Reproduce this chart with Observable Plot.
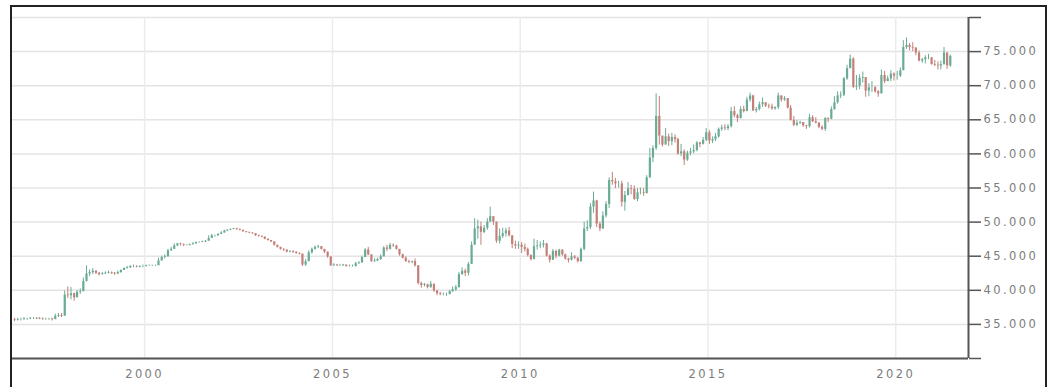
<!DOCTYPE html>
<html><head><meta charset="utf-8">
<script src="https://cdn.jsdelivr.net/npm/d3@7"></script>
<script src="https://cdn.jsdelivr.net/npm/@observablehq/plot@0.6"></script>
<style>
html,body{margin:0;padding:0;background:#fff;}
#wrap{position:relative;width:1052px;height:387px;overflow:hidden;}
#frame{position:absolute;left:10px;top:5px;width:1037px;height:420px;border:2px solid #222;border-bottom:none;box-sizing:border-box;pointer-events:none;}
#chart svg{display:block;}
#chart text{letter-spacing:2.4px;}
g[aria-label="y-axis tick label"], g[aria-label="x-axis tick label"]{fill:#7c7c7c;}
g[aria-label="y-axis tick"]{stroke:#555;stroke-width:1.5px;}
</style></head><body>
<div id="wrap"><div id="chart"></div><div id="frame"></div></div>
<script>
// Monthly USD/INR candles, July 1996 .. June 2021
const firstMonth = "1996-07";
const firstOpen = 35.7;
const closes = [
35.6,35.7,35.7,35.8,35.8,35.9,
35.9,35.8,35.9,35.8,35.8,35.8,35.7,36.2,36.3,36.2,39.3,39.2,
39.5,38.9,39.7,39.8,41.3,42.4,42.6,42.8,42.5,42.3,42.4,42.5,
42.6,42.5,42.4,42.6,42.9,43.2,43.3,43.5,43.5,43.4,43.5,43.5,
43.6,43.6,43.6,43.6,44.3,44.8,44.9,45.8,46.0,46.5,46.8,46.7,
46.6,46.6,46.7,46.8,47.0,47.0,47.1,47.2,47.6,48.0,48.0,48.2,
48.4,48.7,48.8,48.9,49.0,48.9,48.8,48.6,48.5,48.4,48.3,48.0,
47.9,47.8,47.5,47.3,47.1,46.6,46.3,46.0,45.9,45.6,45.7,45.6,
45.4,45.3,43.7,44.2,45.5,46.0,46.3,46.4,46.0,45.6,44.9,43.6,
43.7,43.6,43.6,43.7,43.5,43.5,43.5,43.9,44.0,44.8,45.9,45.2,
44.2,44.3,44.5,44.9,46.2,46.0,46.6,46.5,46.0,45.2,44.7,44.2,
44.1,44.2,43.6,41.0,40.7,40.8,40.4,40.9,39.9,39.5,39.4,39.4,
39.4,39.8,40.1,40.4,42.3,42.8,42.5,43.8,46.6,49.0,49.3,48.5,
49.1,50.0,50.8,50.0,47.2,47.9,48.3,48.7,48.0,46.7,46.5,46.6,
46.3,46.0,45.1,44.5,46.4,46.5,46.6,46.8,45.0,44.4,45.7,45.0,
45.9,45.2,44.6,44.4,44.9,44.7,44.2,46.0,49.0,49.2,52.2,53.1,
49.7,49.0,50.9,52.6,56.1,55.9,55.6,55.6,52.9,53.9,54.9,54.8,
53.3,54.3,54.3,54.2,56.5,59.4,60.8,65.5,62.6,61.3,62.5,61.8,
62.4,62.1,60.0,60.3,59.1,60.1,60.3,60.5,61.6,61.4,62.0,63.1,
61.9,62.1,62.5,63.6,63.8,63.7,64.0,66.2,65.6,65.2,66.5,66.2,
67.9,68.5,66.3,66.5,67.2,67.5,67.0,66.9,66.6,66.8,68.5,67.9,
68.1,66.7,64.9,64.2,64.5,64.6,64.1,64.0,65.3,64.7,64.5,63.9,
63.6,65.2,65.1,66.5,67.5,68.5,68.6,71.0,72.5,73.9,69.8,69.9,
71.1,71.2,69.2,69.7,69.7,69.1,68.8,71.5,70.6,71.0,71.7,71.4,
71.4,72.2,75.6,75.9,75.6,75.5,74.8,73.6,73.8,74.1,74.1,73.1,
73.0,72.9,73.1,74.8,72.9,74.3
];
const highs = [
35.9,35.9,35.9,36.0,35.9,36.0,
36.0,36.0,36.0,35.9,35.9,35.9,35.9,36.5,36.6,36.6,39.9,40.5,
40.4,39.6,40.0,40.2,41.8,43.6,43.0,43.2,42.9,42.6,42.6,42.7,
42.8,42.7,42.6,42.8,43.0,43.3,43.5,43.6,43.7,43.6,43.6,43.7,
43.7,43.7,43.7,43.7,44.7,45.0,45.2,46.0,46.3,46.8,46.9,46.9,
46.8,46.7,46.8,47.0,47.1,47.1,47.2,47.3,48.0,48.2,48.1,48.3,
48.6,48.8,48.9,49.0,49.1,49.1,49.0,48.8,48.6,48.5,48.4,48.3,
48.1,48.0,47.8,47.5,47.3,47.1,46.6,46.3,46.1,45.9,45.8,45.8,
45.6,45.5,45.3,44.5,45.8,46.2,46.5,46.6,46.4,46.0,45.6,44.9,
43.9,43.8,43.8,43.8,43.7,43.7,43.7,44.1,44.2,45.0,46.1,46.3,
45.2,44.6,44.7,45.2,46.4,46.6,46.9,46.8,46.6,46.0,45.3,44.9,
44.4,44.3,44.6,43.6,41.2,41.0,40.9,41.3,40.9,40.0,39.7,39.6,
39.6,40.0,40.5,40.7,42.6,43.3,43.1,44.1,47.1,50.5,50.3,50.0,
49.5,50.5,52.2,50.7,49.9,49.0,49.1,49.1,49.2,47.9,47.2,47.1,
47.0,46.8,46.2,45.2,47.5,47.3,47.1,47.3,46.9,45.2,46.0,45.9,
46.0,45.9,45.3,44.7,45.5,45.1,44.8,46.2,50.0,50.2,52.7,54.4,
53.2,50.0,51.5,53.0,56.5,57.3,56.4,56.0,56.0,54.5,55.8,55.4,
55.3,54.9,55.0,54.9,56.8,60.8,61.2,68.8,68.4,62.5,63.7,62.9,
63.0,62.8,62.3,61.4,60.6,60.4,60.8,61.3,61.8,61.7,62.4,63.7,
63.4,62.5,63.0,63.8,64.2,64.3,64.3,66.8,66.9,65.8,66.9,67.0,
68.3,68.9,68.6,66.8,67.6,68.2,67.5,67.3,67.3,66.9,68.9,68.5,
68.4,68.1,67.1,65.5,64.9,64.8,64.6,64.2,65.8,65.6,65.3,64.6,
64.1,65.3,65.3,66.9,68.4,69.1,69.1,71.2,73.0,74.5,74.1,71.5,
71.6,72.0,71.2,70.3,70.6,69.9,69.3,72.3,72.1,71.4,72.2,71.9,
72.1,72.6,76.6,77.0,76.2,76.3,75.6,75.1,74.0,74.4,74.6,74.1,
73.7,73.5,73.6,75.6,74.8,74.5
];
const lows = [
35.4,35.5,35.5,35.6,35.6,35.7,
35.7,35.7,35.7,35.6,35.6,35.6,35.5,35.7,36.0,36.0,36.2,38.8,
38.6,38.4,38.9,39.4,39.8,41.2,42.0,42.3,42.3,42.1,42.2,42.3,
42.4,42.3,42.2,42.3,42.5,42.9,43.1,43.2,43.3,43.3,43.3,43.3,
43.4,43.5,43.5,43.5,43.6,44.3,44.6,44.9,45.7,46.0,46.4,46.5,
46.4,46.5,46.5,46.6,46.8,46.9,47.0,47.0,47.2,47.6,47.8,47.9,
48.2,48.4,48.6,48.8,48.9,48.8,48.7,48.5,48.4,48.3,48.2,47.9,
47.8,47.7,47.4,47.2,47.0,46.5,46.2,45.9,45.7,45.5,45.5,45.4,
45.3,45.2,43.5,43.5,44.2,45.3,45.9,46.1,45.9,45.4,44.7,43.5,
43.5,43.5,43.5,43.5,43.4,43.4,43.4,43.4,43.8,44.0,44.8,45.1,
44.1,44.1,44.2,44.4,44.9,45.7,45.9,46.3,45.9,45.0,44.6,44.1,
43.9,43.9,43.4,40.8,40.3,40.5,40.2,40.3,39.7,39.2,39.2,39.2,
39.1,39.3,39.7,39.8,40.3,42.2,42.0,42.1,43.8,46.6,47.5,46.6,
48.3,48.8,50.0,49.5,46.9,46.8,47.6,47.8,47.8,46.1,46.0,46.0,
45.4,45.6,44.9,44.3,44.5,45.9,46.1,46.2,44.9,44.0,44.4,44.6,
44.9,45.0,44.4,44.0,44.3,44.5,44.0,44.1,45.8,48.6,48.9,51.3,
49.2,48.6,48.9,50.6,52.0,55.4,54.9,55.0,52.2,51.6,53.8,54.0,
53.2,53.0,54.0,53.8,54.1,56.4,58.7,60.5,61.3,61.0,61.3,61.1,
61.2,61.6,59.8,59.6,58.3,58.9,59.7,60.0,60.3,60.9,61.3,61.8,
61.4,61.5,61.8,62.3,63.3,63.4,63.4,63.8,65.3,64.6,65.1,66.0,
66.2,67.6,66.2,66.0,66.3,66.8,66.8,66.6,66.4,66.4,66.5,67.6,
67.7,66.6,64.8,64.0,64.0,64.3,63.9,63.6,63.8,64.6,64.4,63.7,
63.4,63.3,64.6,65.0,66.4,67.3,68.1,68.4,70.8,72.5,69.6,69.3,
69.4,70.4,68.3,68.4,69.0,68.9,68.3,68.8,70.3,70.6,70.6,70.7,
70.8,71.2,72.2,75.3,75.1,75.0,74.4,73.5,73.3,73.2,73.8,73.0,
72.8,72.3,72.3,73.0,72.4,72.7
];
const xTickYears = [2000, 2005, 2010, 2015, 2020];
const xTickLabels = ["2000", "2005", "2010", "2015", "2020"];
const yTicks = [30, 35, 40, 45, 50, 55, 60, 65, 70, 75, 80];
const yTickLabels = ["", "35.000", "40.000", "45.000", "50.000", "55.000", "60.000", "65.000", "70.000", "75.000", ""];
const upColor = "#6aab94";
const downColor = "#c37f78";

const [fy, fm] = firstMonth.split("-").map(Number);
const data = closes.map((c, i) => {
  const open = i === 0 ? firstOpen : closes[i - 1];
  return {
    date: new Date(Date.UTC(fy, fm - 1 + i, 15)),
    open, close: c,
    high: Math.max(highs[i], open, c),
    low: Math.min(lows[i], open, c),
    dir: c >= open ? "up" : "down"
  };
});

const xDomain = [new Date(Date.UTC(1996, 5, 25)), new Date(Date.UTC(2021, 11, 9))];
const xTicks = xTickYears.map(y => new Date(Date.UTC(y, 0, 1)));

const chart = Plot.plot({
  width: 1052, height: 387,
  marginLeft: 12, marginRight: 84, marginTop: 17, marginBottom: 29,
  style: {fontFamily: "DejaVu Sans, sans-serif", fontSize: "11.5px", color: "#444", background: "transparent"},
  x: {type: "utc", domain: xDomain},
  y: {domain: [30, 80]},
  color: {domain: ["up", "down"], range: [upColor, downColor]},
  marks: [
    Plot.gridY(yTicks, {stroke: "#e4e4e4", strokeOpacity: 1, strokeWidth: 1.5}),
    Plot.gridX(xTicks, {stroke: "#ececec", strokeOpacity: 1, strokeWidth: 1.5}),
    Plot.ruleX(data, {x: "date", y1: "low", y2: "high", stroke: "dir", strokeWidth: 1}),
    Plot.ruleX(data, {x: "date", y1: "open", y2: "close", stroke: "dir", strokeWidth: 2.2}),
    Plot.ruleY([30], {stroke: "#555", strokeWidth: 2}),
    Plot.ruleX([xDomain[1]], {y1: 30, y2: 80, stroke: "#555", strokeWidth: 2}),
    Plot.axisY({anchor: "right", ticks: yTicks, tickFormat: d => yTickLabels[yTicks.indexOf(d)], tickSize: 12, tickPadding: 3}),
    Plot.axisX({ticks: xTicks, tickFormat: d => xTickLabels[xTicks.findIndex(t => +t === +d)], tickSize: 0, tickPadding: 11})
  ]
});
document.getElementById("chart").appendChild(chart);
</script>
</body></html>
